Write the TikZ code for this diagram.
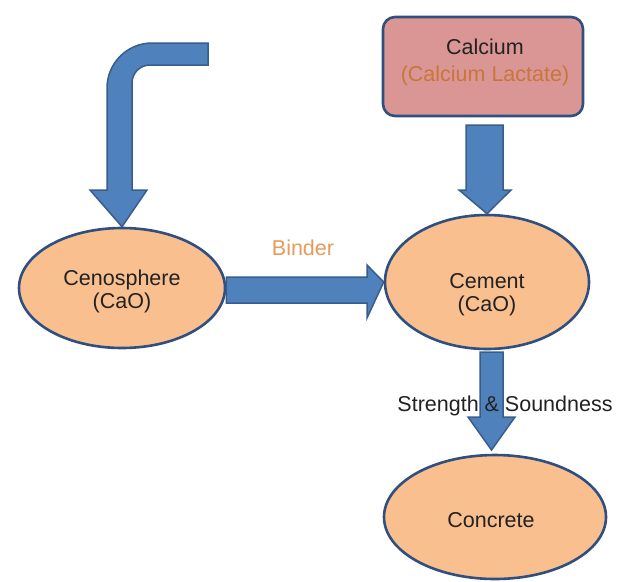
\documentclass[tikz,border=0pt]{standalone}
\usepackage{fontspec}
\setmainfont{Liberation Sans}
\usetikzlibrary{shapes.geometric}
\definecolor{arrfill}{HTML}{4F81BD}
\definecolor{arrline}{HTML}{385D8A}
\definecolor{elfill}{HTML}{F9BF8F}
\definecolor{elline}{HTML}{2F4F7F}
\definecolor{boxfill}{HTML}{D99694}
\definecolor{binder}{HTML}{E49B5C}
\definecolor{lactate}{HTML}{C8763A}
\definecolor{txt}{HTML}{222222}
\tikzset{
  blob/.style={ellipse, draw=elline, fill=elfill, line width=2.6pt, inner sep=0pt},
  calbox/.style={rectangle, rounded corners=12pt, draw=elline, fill=boxfill, line width=2.6pt},
  blockarrow/.style={fill=arrfill, draw=arrline, line width=1.5pt, line join=miter},
  lbl/.style={font=\fontsize{21.5}{23}\selectfont, inner sep=0pt, align=center, text=txt}
}
\begin{document}
\begin{tikzpicture}[x=1pt,y=-1pt]
\useasboundingbox (0,0) rectangle (617,581);
\node[calbox, minimum width=200pt, minimum height=99pt] (cal) at (483,66.5) {};
\node[lbl, font=\fontsize{21.5}{27}\selectfont] (caltxt) at (485,62) {Calcium\\\textcolor{lactate}{(Calcium Lactate)}};
\node[blob, minimum width=206pt, minimum height=120pt] (ceno) at (122,288) {};
\node[lbl] (cenotxt) at (122,291) {Cenosphere\\(CaO)};
\node[blob, minimum width=204pt, minimum height=134pt] (cem) at (487,282) {};
\node[lbl] (cemtxt) at (487,295) {Cement\\(CaO)};
\node[blob, minimum width=222pt, minimum height=124pt] (conc) at (495,517) {};
\node[lbl] (conctxt) at (491,520) {Concrete};
% bent arrow into cenosphere
\draw[blockarrow] (208,43) -- (152,43) .. controls (127.2,43) and (107,63.2) .. (107,88)
  -- (107,190) -- (90,190) -- (ceno.north) -- (147,190) -- (132,190) -- (132,83)
  .. controls (132,73) and (140,65) .. (150,65) -- (208,65) -- cycle;
% calcium to cement
\draw[blockarrow] (466,125) -- (466,190) -- (459,190) -- (cem.north) -- (511,190) -- (503,190) -- (503,125) -- cycle;
% cenosphere to cement (binder)
\draw[blockarrow] (ceno.east |- 0,277) -- (367,277) -- (367,265) -- (cem.west) -- (367,318) -- (367,303) -- (ceno.east |- 0,303) -- cycle;
% cement to concrete
\draw[blockarrow] (480,352) -- (480,417) -- (468,417) -- (491.5,450) -- (515,417) -- (503,417) -- (503,352) -- cycle;
\node[lbl, text=binder] (bind) at (303,248) {Binder};
\node[lbl] (ss) at (505,406) {Strength \& Soundness};
\end{tikzpicture}
\end{document}
